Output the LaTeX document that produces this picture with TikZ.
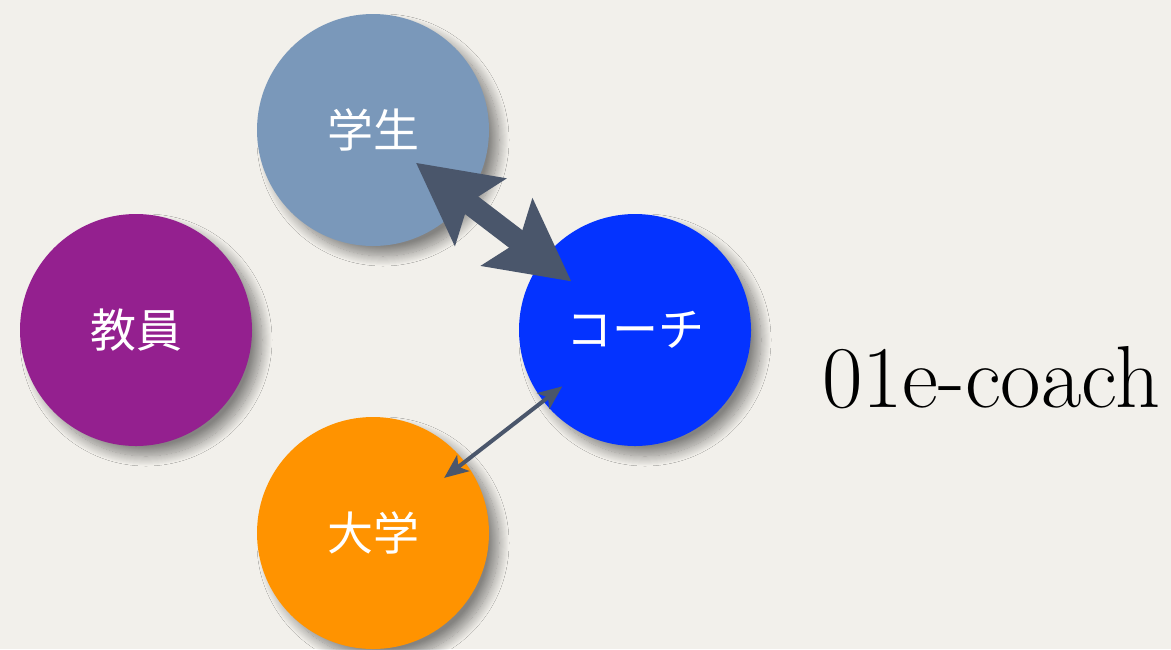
\documentclass[tikz,border=0pt]{standalone}
\usepackage{fontspec}
\newfontfamily\jafont{Noto Sans CJK JP}
\usetikzlibrary{arrows.meta,shadows.blur}
\definecolor{paper}{HTML}{F2F0EB}
\definecolor{student}{HTML}{7A98BA}
\definecolor{teacher}{HTML}{94208F}
\definecolor{coach}{HTML}{0433FF}
\definecolor{univ}{HTML}{FF9300}
\definecolor{link}{HTML}{4A566B}
\begin{document}
\begin{tikzpicture}
      [x=0.5pt,y=-0.5pt,
      role node/.style={circle,draw=none,minimum size=116pt,inner sep=0pt,
        text=white,font=\jafont\fontsize{23}{26}\selectfont,
        blur shadow={shadow xshift=5pt,shadow yshift=-5pt,shadow blur radius=5pt,
          shadow blur steps=20,shadow opacity=45,shadow blur extra rounding=0pt}},
      big link/.style={link,line width=11pt,
        {Stealth[length=40pt,width=41pt,inset=7pt]}-{Stealth[length=40pt,width=41pt,inset=7pt]}},
      small link/.style={link,line width=2pt,
        {Stealth[length=12pt,width=10pt,inset=3pt]}-{Stealth[length=12pt,width=10pt,inset=3pt]}}]
      \fill[paper] (0,0) rectangle (1171,649);
      \useasboundingbox (0,0) rectangle (1171,649);
      \node[role node,fill=student] (s) at (373,130) {学生};
      \node[role node,fill=teacher] (t) at (136,330) {教員};
      \node[role node,fill=coach] (c) at (635,330) {コーチ};
      \node[role node,fill=univ] (u) at (373,533) {大学};
      \draw[big link,shorten <=27pt,shorten >=40pt] (s.center) -- (c.center);
      \draw[small link,shorten <=46pt,shorten >=45pt] (c.center) -- (u.center);
      \node[font=\fontsize{44}{50}\selectfont] (title) at (991,378) {01e-coach};
    \end{tikzpicture}
\end{document}
